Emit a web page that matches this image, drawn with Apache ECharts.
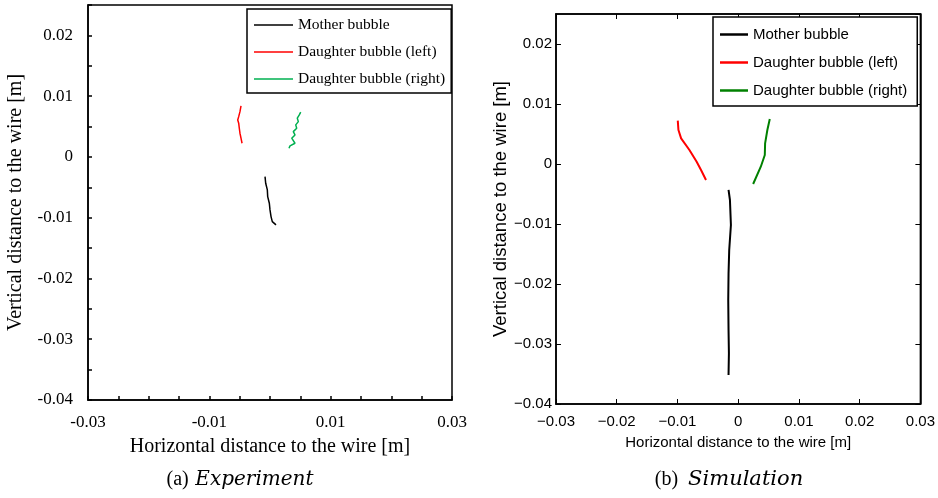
<!DOCTYPE html>
<html>
<head>
<meta charset="utf-8">
<script src="https://cdn.jsdelivr.net/npm/echarts@6/dist/echarts.min.js"></script>
<style>html,body{margin:0;padding:0;background:#fff}#c{width:938px;height:498px}</style>
</head>
<body>
<div id="c"></div>
<script>
// ---- Data (a) Experiment: [x, y] in metres ----
var expMother = [[-0.00082,-0.00324],[-0.00071,-0.00433],[-0.00044,-0.00543],[-0.00038,-0.00653],[-0.00011,-0.00762],[0.0,-0.00872],[0.00017,-0.00982],[0.00038,-0.01065],[0.00099,-0.01119]];
var expLeft = [[-0.00478,0.00839],[-0.00495,0.00745],[-0.00516,0.00663],[-0.00532,0.00609],[-0.00516,0.00555],[-0.00506,0.00472],[-0.00495,0.0039],[-0.00478,0.00308],[-0.00461,0.00225]];
var expRight = [[0.00506,0.00736],[0.00483,0.00691],[0.0045,0.00637],[0.00467,0.00581],[0.00424,0.00527],[0.0044,0.00472],[0.00384,0.00416],[0.00412,0.00362],[0.00358,0.00308],[0.00412,0.00225],[0.0033,0.00181],[0.00313,0.00143]];
// ---- Data (b) Simulation ----
var simMother = [[-0.00159,-0.00433],[-0.00136,-0.006],[-0.0012,-0.01017],[-0.00148,-0.01433],[-0.00159,-0.01822],[-0.00164,-0.02267],[-0.00159,-0.02767],[-0.00153,-0.03155],[-0.00159,-0.03517]];
var simLeft = [[-0.00995,0.00722],[-0.00984,0.00567],[-0.0094,0.00428],[-0.00803,0.00233],[-0.00684,0.00038],[-0.00612,-0.001],[-0.0053,-0.00267]];
var simRight = [[0.0052,0.0075],[0.0048,0.00567],[0.00443,0.00345],[0.00438,0.0015],[0.00372,-0.00045],[0.00246,-0.00333]];

var seriesNames = ['Mother bubble','Daughter bubble (left)','Daughter bubble (right)'];
var xTitle = 'Horizontal distance to the wire [m]';
var yTitle = 'Vertical distance to the wire [m]';

var SERIF = 'Liberation Serif';
var SANS = 'Liberation Sans';

function fmt(v){ var r = Math.round(v*1000)/1000; return String(r); }
function fmtMinus(v){ return fmt(v).replace('-', '\u2212'); }

var chart = echarts.init(document.getElementById('c'), null, {renderer:'canvas'});

function lineSeries(name, data, xi, yi, color, width){
  return {type:'line', name:name, data:data, xAxisIndex:xi, yAxisIndex:yi,
    symbol:'none', smooth:false, lineStyle:{color:color, width:width}, itemStyle:{color:color}, z:3};
}

var option = {
  animation:false,
  backgroundColor:'#fff',
  grid:[
    {left:88, top:5, width:364, height:395, show:true, borderColor:'#000', borderWidth:1.5, backgroundColor:'transparent'},
    {left:556, top:14, width:366, height:390, show:true, borderColor:'#000', borderWidth:1.5, backgroundColor:'transparent'}
  ],
  xAxis:[
    {gridIndex:0, type:'value', min:-0.03, max:0.03, interval:0.005, position:'bottom',
     name:xTitle, nameLocation:'middle', nameGap:37, nameTextStyle:{fontFamily:SERIF, fontSize:20, color:'#000'},
     axisLine:{show:true, onZero:false, lineStyle:{color:'#000', width:1.5}},
     axisTick:{show:true, inside:true, length:4, lineStyle:{color:'#000', width:1.5}},
     axisLabel:{interval:0, margin:14, fontFamily:SERIF, fontSize:17, color:'#000', showMinLabel:true, showMaxLabel:true,
       formatter:function(v){ var k=Math.round(v*1000); return (Math.abs(k)%20===10)? fmt(v):''; }},
     splitLine:{show:false}},
    {gridIndex:1, type:'value', min:-0.03, max:0.03, interval:0.01, position:'bottom',
     name:xTitle, nameLocation:'middle', nameGap:31, nameTextStyle:{fontFamily:SANS, fontSize:15, color:'#000'},
     axisLine:{show:true, onZero:false, lineStyle:{color:'#000', width:1.5}},
     axisTick:{show:true, inside:true, length:5, lineStyle:{color:'#000', width:1}},
     axisLabel:{interval:0, margin:10, fontFamily:SANS, fontSize:15, color:'#000', showMinLabel:true, showMaxLabel:true,
       formatter:fmtMinus},
     splitLine:{show:false}},
    {gridIndex:1, type:'value', min:-0.03, max:0.03, interval:0.01, position:'top',
     axisLine:{show:true, onZero:false, lineStyle:{color:'#000', width:1.5}},
     axisTick:{show:true, inside:true, length:5, lineStyle:{color:'#000', width:1}},
     axisLabel:{show:false}, splitLine:{show:false}}
  ],
  yAxis:[
    {gridIndex:0, type:'value', min:-0.04, max:0.025, interval:0.005, position:'left',
     name:yTitle, nameLocation:'middle', nameGap:62, nameTextStyle:{fontFamily:SERIF, fontSize:20, color:'#000'},
     axisLine:{show:true, onZero:false, lineStyle:{color:'#000', width:1.5}},
     axisTick:{show:true, inside:true, length:4, lineStyle:{color:'#000', width:1.5}},
     axisLabel:{interval:0, margin:15, fontFamily:SERIF, fontSize:17, color:'#000', showMaxLabel:true, showMinLabel:true,
       formatter:function(v){ var k=Math.round(v*1000); return (k%10===0)? fmt(v):''; }},
     splitLine:{show:false}},
    {gridIndex:1, type:'value', min:-0.04, max:0.025, interval:0.01, position:'left',
     name:yTitle, nameLocation:'middle', nameGap:44, nameTextStyle:{fontFamily:SANS, fontSize:18.5, color:'#000'},
     axisLine:{show:true, onZero:false, lineStyle:{color:'#000', width:1.5}},
     axisTick:{show:true, inside:true, length:5, lineStyle:{color:'#000', width:1}},
     axisLabel:{interval:0, margin:4, fontFamily:SANS, fontSize:15, color:'#000', showMaxLabel:false, showMinLabel:true,
       formatter:function(v){ var k=Math.round(v*1000); return (k%10===0)? fmtMinus(v):''; }},
     splitLine:{show:false}},
    {gridIndex:1, type:'value', min:-0.04, max:0.025, interval:0.01, position:'right',
     axisLine:{show:true, onZero:false, lineStyle:{color:'#000', width:1.5}},
     axisTick:{show:true, inside:true, length:5, lineStyle:{color:'#000', width:1}},
     axisLabel:{show:false}, splitLine:{show:false}}
  ],
  legend:[
    {orient:'vertical', left:247, top:9, padding:[8,6,6,7], icon:'rect', itemWidth:39, itemHeight:1.6, itemGap:11, align:'left',
     backgroundColor:'#fff', borderColor:'#000', borderWidth:1.5, selectedMode:false,
     textStyle:{fontFamily:SERIF, fontSize:15.5, lineHeight:14, color:'#000'},
     data:['a:'+seriesNames[0],'a:'+seriesNames[1],'a:'+seriesNames[2]],
     formatter:function(n){ return n.slice(2); }},
    {orient:'vertical', left:713, top:17, padding:[10,10,8,7], icon:'rect', itemWidth:28, itemHeight:2.5, itemGap:13, align:'left',
     backgroundColor:'#fff', borderColor:'#000', borderWidth:1.5, selectedMode:false,
     textStyle:{fontFamily:SANS, fontSize:15, lineHeight:14, color:'#000'},
     data:['b:'+seriesNames[0],'b:'+seriesNames[1],'b:'+seriesNames[2]],
     formatter:function(n){ return n.slice(2); }}
  ],
  series:[
    lineSeries('a:'+seriesNames[0], expMother, 0, 0, '#000000', 1.5),
    lineSeries('a:'+seriesNames[1], expLeft, 0, 0, '#ff0000', 1.5),
    lineSeries('a:'+seriesNames[2], expRight, 0, 0, '#00b050', 1.5),
    lineSeries('b:'+seriesNames[0], simMother, 1, 1, '#000000', 2),
    lineSeries('b:'+seriesNames[1], simLeft, 1, 1, '#ff0000', 2),
    lineSeries('b:'+seriesNames[2], simRight, 1, 1, '#008000', 2)
  ],
  graphic:[
    {type:'text', x:240, y:480, style:{
      text:'{r|(a)}  {i|Experiment}', align:'center', verticalAlign:'middle',
      rich:{r:{fontFamily:SERIF, fontSize:20, fill:'#000', color:'#000'}, i:{fontFamily:'DejaVu Serif', fontStyle:'italic', fontSize:20, fill:'#000', color:'#000'}}}},
    {type:'text', x:729, y:480, style:{
      text:'{r|(b)}   {i|Simulation}', align:'center', verticalAlign:'middle',
      rich:{r:{fontFamily:SERIF, fontSize:20, fill:'#000', color:'#000'}, i:{fontFamily:'DejaVu Serif', fontStyle:'italic', fontSize:21, fill:'#000', color:'#000'}}}}
  ]
};
chart.setOption(option);
</script>
</body>
</html>
